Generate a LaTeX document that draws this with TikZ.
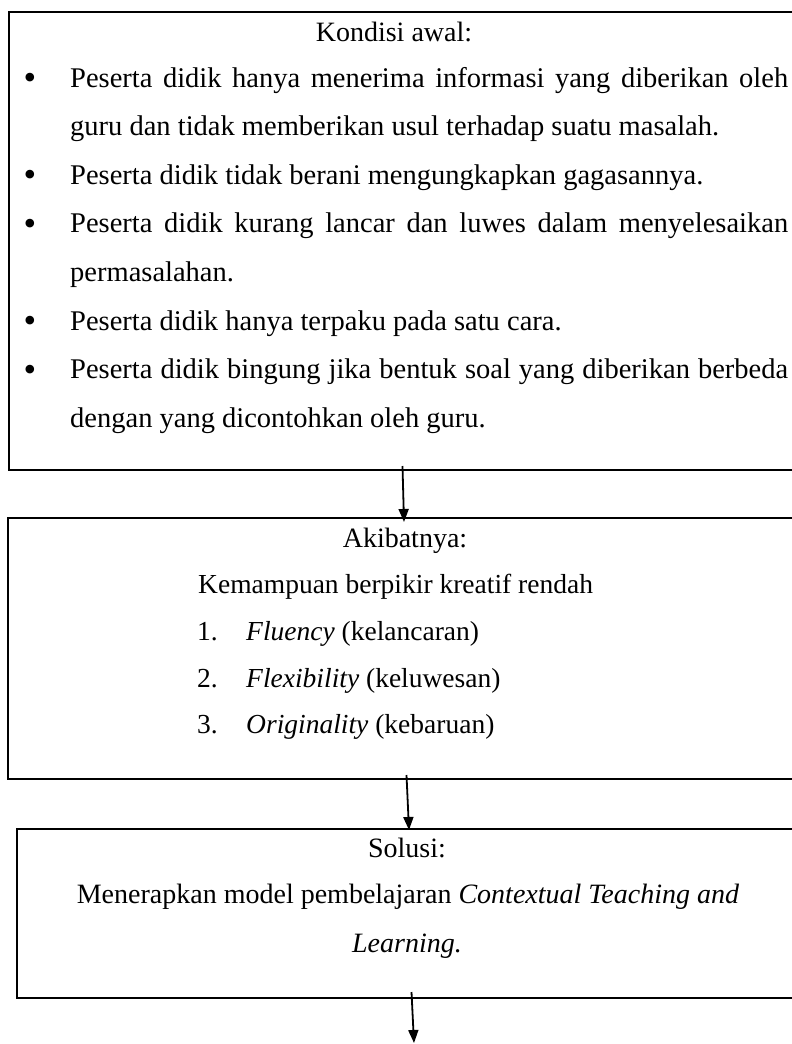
\documentclass[tikz,border=0pt]{standalone}
\usepackage{fontspec}
\setmainfont{Liberation Serif}
\usetikzlibrary{arrows.meta}
\begin{document}
\begin{tikzpicture}[x=1pt,y=-1pt,
  boxnode/.style={draw=black,line width=2pt,rectangle,inner sep=0pt,outer sep=0pt,anchor=north west},
  txt/.style={anchor=base west,inner sep=0pt,font=\fontsize{27.5}{33}\selectfont},
  wtxt/.style={anchor=base west,inner sep=0pt,font=\fontsize{28.5}{34}\selectfont},
  ctxt/.style={anchor=base,inner sep=0pt,font=\fontsize{28}{33}\selectfont},
  bul/.style={anchor=base,inner sep=0pt,font=\fontsize{36}{40}\selectfont},
  arr/.style={line width=1.8pt,-{Triangle[length=13pt,width=10pt]}}]
\useasboundingbox (0,0) rectangle (792,1044);
\clip (0,0) rectangle (792,1044);
% boxes
\node[boxnode,minimum width=800pt,minimum height=458pt] (b1) at (9,12) {};
\node[boxnode,minimum width=800pt,minimum height=261pt] (b2) at (8,518) {};
\node[boxnode,minimum width=800pt,minimum height=169pt] (b3) at (17,829) {};
% box 1 text
\node[ctxt] (t1) at (394,41.5) {Kondisi awal:};
\node[bul] (u1) at (30,89.5) {\textbullet};
\node[wtxt] (l1) at (70,87) {\makebox[718pt][s]{Peserta didik hanya menerima informasi yang diberikan oleh}};
\node[wtxt] (l2) at (70,135.6) {guru dan tidak memberikan usul terhadap suatu masalah.};
\node[bul] (u2) at (30,186.7) {\textbullet};
\node[wtxt] (l3) at (70,184.2) {Peserta didik tidak berani mengungkapkan gagasannya.};
\node[bul] (u3) at (30,235.3) {\textbullet};
\node[wtxt] (l4) at (70,232.8) {\makebox[718pt][s]{Peserta didik kurang lancar dan luwes dalam menyelesaikan}};
\node[wtxt] (l5) at (70,281.4) {permasalahan.};
\node[bul] (u4) at (30,332.5) {\textbullet};
\node[wtxt] (l6) at (70,330) {Peserta didik hanya terpaku pada satu cara.};
\node[bul] (u5) at (30,381.1) {\textbullet};
\node[wtxt] (l7) at (70,378.6) {\makebox[718pt][s]{Peserta didik bingung jika bentuk soal yang diberikan berbeda}};
\node[wtxt] (l8) at (70,427.2) {dengan yang dicontohkan oleh guru.};
% box 2 text
\node[ctxt] (t2) at (405,547) {Akibatnya:};
\node[txt] (k1) at (198,593) {Kemampuan berpikir kreatif rendah};
\node[txt] (n1) at (197,640) {1.};
\node[txt] (f1) at (246,640) {\textit{Fluency} (kelancaran)};
\node[txt] (n2) at (197,687) {2.};
\node[txt] (f2) at (246,687) {\textit{Flexibility} (keluwesan)};
\node[txt] (n3) at (197,733) {3.};
\node[txt] (f3) at (246,733) {\textit{Originality} (kebaruan)};
% box 3 text
\node[ctxt] (t3) at (407,857) {Solusi:};
\node[ctxt] (s1) at (408,903) {Menerapkan model pembelajaran \textit{Contextual Teaching and}};
\node[ctxt] (s2) at (407,952) {\textit{Learning.}};
% arrows
\coordinate (a1s) at (402.5,466);
\coordinate (a1e) at (404,522);
\coordinate (a2s) at (406.5,775);
\coordinate (a2e) at (409,830);
\coordinate (a3s) at (411.5,992);
\coordinate (a3e) at (414,1043);
\draw[arr] (a1s) -- (a1e);
\draw[arr] (a2s) -- (a2e);
\draw[arr] (a3s) -- (a3e);
\end{tikzpicture}
\end{document}
